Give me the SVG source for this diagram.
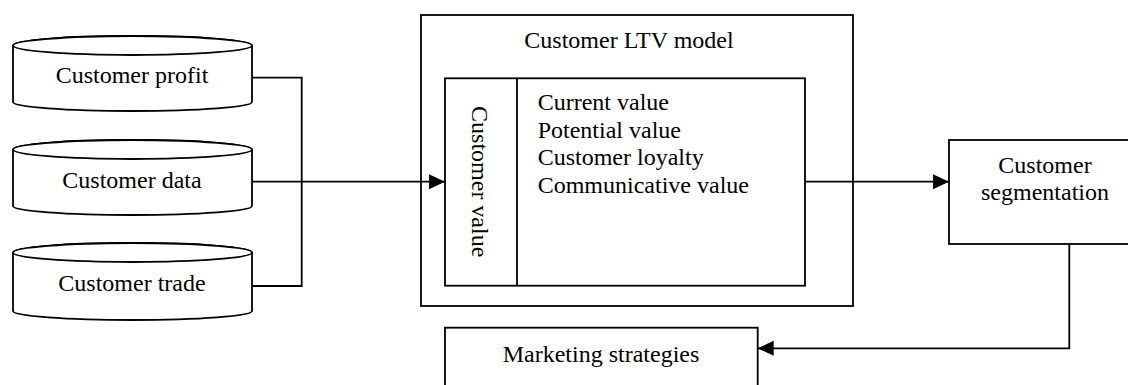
<svg xmlns="http://www.w3.org/2000/svg" width="1128" height="385" viewBox="0 0 1128 385">
<style>
.s{fill:#fff;stroke:#000;stroke-width:1.8}
.n{fill:none;stroke:#000;stroke-width:1.8}
.t{font-family:"Liberation Serif","Times New Roman",serif;font-size:24px;fill:#000}
.m{text-anchor:middle}
</style>
<defs>
<marker id="ah" markerWidth="16" markerHeight="16" viewBox="0 0 16 16" refX="16" refY="8" orient="auto" markerUnits="userSpaceOnUse">
<path d="M0,0.5 L16,8 L0,15.5 Z" fill="#000"/>
</marker>
</defs>
<rect width="1128" height="385" fill="#fff"/>
<g id="connectors">
<path class="n" d="M252,77.7 H301.7 V286 H252"/>
<path class="n" d="M252,181.7 H445" marker-end="url(#ah)"/>
<path class="n" d="M805,181.7 H949" marker-end="url(#ah)"/>
<path class="n" d="M1069.3,244 V348.3 H757.7" marker-end="url(#ah)"/>
</g>
<g id="customer-profit">
<path class="s" d="M13,45.5 V102 A119.5,9 0 0 0 252,102 V45.5 A119.5,9.5 0 0 0 13,45.5 Z"/>
<ellipse class="s" cx="132.5" cy="45.5" rx="119.5" ry="9.5"/>
<text class="t m" x="132" y="83">Customer profit</text>
</g>
<g id="customer-data">
<path class="s" d="M13,149.5 V206 A119.5,9 0 0 0 252,206 V149.5 A119.5,9.5 0 0 0 13,149.5 Z"/>
<ellipse class="s" cx="132.5" cy="149.5" rx="119.5" ry="9.5"/>
<text class="t m" x="132" y="188">Customer data</text>
</g>
<g id="customer-trade">
<path class="s" d="M13,252.5 V311 A119.5,9 0 0 0 252,311 V252.5 A119.5,9.5 0 0 0 13,252.5 Z"/>
<ellipse class="s" cx="132.5" cy="252.5" rx="119.5" ry="9.5"/>
<text class="t m" x="132" y="291">Customer trade</text>
</g>
<g id="ltv-model">
<rect class="n" x="421" y="15" width="432" height="291"/>
<text class="t m" x="629" y="48">Customer LTV model</text>
</g>
<g id="customer-value">
<rect class="s" x="445" y="78.3" width="360" height="207.4"/>
<line class="n" x1="517" y1="78.3" x2="517" y2="285.7"/>
<text class="t m" transform="translate(472,181.7) rotate(90)">Customer value</text>
<text class="t" x="537.7" y="110">Current value</text>
<text class="t" x="537.7" y="137.7">Potential value</text>
<text class="t" x="537.7" y="165.3">Customer loyalty</text>
<text class="t" x="537.7" y="193">Communicative value</text>
</g>
<g id="customer-segmentation">
<rect class="s" x="949" y="140" width="200" height="104"/>
<text class="t m" x="1045" y="173.3">Customer</text>
<text class="t m" x="1045" y="200">segmentation</text>
</g>
<g id="marketing-strategies">
<rect class="s" x="445" y="327.7" width="312.7" height="70"/>
<text class="t m" x="601" y="361.7">Marketing strategies</text>
</g>
</svg>
